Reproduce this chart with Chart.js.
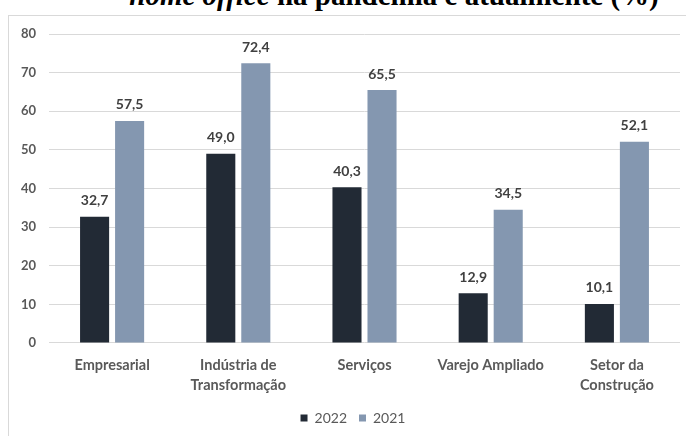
<!DOCTYPE html>
<html lang="pt">
<head>
<meta charset="utf-8">
<style>
  html, body { margin: 0; padding: 0; background: #fff; }
  #wrap { position: relative; width: 686px; height: 436px; overflow: hidden; }
  #title {
    position: absolute; left: 0; width: 686px; top: -21px; text-align: center;
    padding-left: 102px; box-sizing: border-box;
    font: bold 29px "Liberation Serif", "DejaVu Serif", serif; color: #000; white-space: nowrap;
  }
  #frame {
    position: absolute; left: 8px; top: 15px; width: 700px; height: 440px;
    border: 1px solid #d9d9d9; box-sizing: border-box;
  }
  #chart { position: absolute; left: 0; top: 0; }
</style>
</head>
<body>
<div id="wrap">
  <div id="title"><i>home office</i> na pandemia e atualmente (%)</div>
  <div id="frame"></div>
  <canvas id="chart" width="686" height="436"></canvas>
</div>
<script src="https://cdn.jsdelivr.net/npm/chart.js@4/dist/chart.umd.min.js"></script>
<script>
// setores e percentuais
const setores = ["Empresarial", ["Indústria de", "Transformação"], "Serviços", "Varejo Ampliado", ["Setor da", "Construção"]];
const valores2022 = [32.7, 49.0, 40.3, 12.9, 10.1];
const valores2021 = [57.5, 72.4, 65.5, 34.5, 52.1];
const ticksY = [0, 10, 20, 30, 40, 50, 60, 70, 80];

const fmt = v => v.toFixed(1).replace(".", ",");

// rótulos de valor acima das barras
const rotulos = {
  id: "rotulos",
  afterDatasetsDraw(chart) {
    const ctx = chart.ctx;
    ctx.save();
    ctx.font = "bold 14px Lato, sans-serif";
    ctx.fillStyle = "#404040";
    ctx.textAlign = "center";
    ctx.textBaseline = "middle";
    chart.data.datasets.forEach((ds, i) => {
      chart.getDatasetMeta(i).data.forEach((bar, j) => {
        ctx.fillText(fmt(ds.data[j]), bar.x, bar.y - 16);
      });
    });
    ctx.restore();
  }
};

// legenda um pouco à direita, como no original
const desviaLegenda = {
  id: "desviaLegenda",
  afterLayout(chart) {
    if (chart.legend) { chart.legend.left += 13; chart.legend.right += 13; }
  }
};

new Chart(document.getElementById("chart"), {
  type: "bar",
  data: {
    labels: setores,
    datasets: [
      { label: "2022", data: valores2022, backgroundColor: "#222a35" },
      { label: "2021", data: valores2021, backgroundColor: "#8497b0" }
    ]
  },
  options: {
    responsive: false,
    animation: false,
    layout: { padding: { top: 34, right: 6, bottom: 1, left: 0 } },
    datasets: { bar: { categoryPercentage: 0.555, barPercentage: 0.83 } },
    scales: {
      x: {
        grid: { display: false },
        border: { display: false },
        ticks: { color: "#595959", font: { family: "Lato", size: 14.5, weight: "bold", lineHeight: 1.38 }, padding: 4, maxRotation: 0 }
      },
      y: {
        min: 0, max: 80,
        afterFit(scale) { scale.width = 49; },
        afterBuildTicks(scale) { scale.ticks = ticksY.map(v => ({ value: v })); },
        grid: { color: "#d9d9d9", drawTicks: false },
        border: { display: false },
        ticks: { color: "#595959", font: { family: "Lato", size: 13, weight: "bold" }, padding: 13 }
      }
    },
    plugins: {
      legend: {
        position: "bottom",
        labels: {
          boxWidth: 7, boxHeight: 7, padding: 12,
          color: "#595959", font: { family: "Lato", size: 14 }
        }
      },
      tooltip: { enabled: false }
    }
  },
  plugins: [rotulos, desviaLegenda]
});
</script>
</body>
</html>
